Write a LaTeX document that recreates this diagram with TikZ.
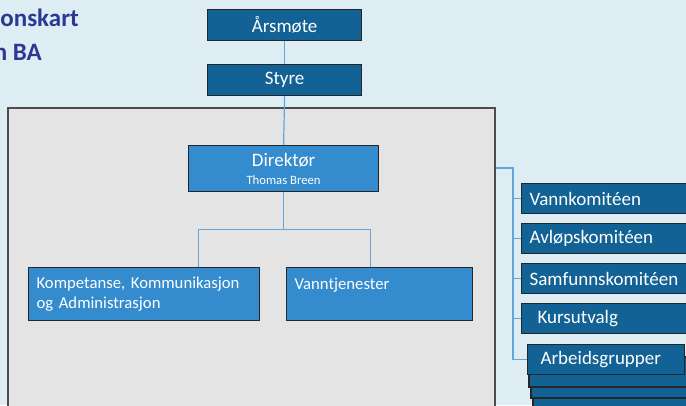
\documentclass[tikz,border=0pt]{standalone}
\usepackage{fontspec}
\setmainfont{Carlito}
\frenchspacing
\definecolor{bgblue}{RGB}{222,236,244}
\definecolor{boxdark}{RGB}{19,98,150}
\definecolor{boxmid}{RGB}{52,139,205}
\definecolor{linkblue}{RGB}{100,165,218}
\definecolor{panelgrey}{RGB}{228,228,228}
\definecolor{titleblue}{RGB}{43,57,144}
\begin{document}
\begin{tikzpicture}[x=1pt,y=-1pt]
	\tikzstyle{topbox}=[draw=black!85, line width=1.2pt, fill=boxdark, text=white, anchor=north west, inner sep=0pt, font=\fontsize{19}{22}\selectfont]
	\tikzstyle{midbox}=[draw=black!85, line width=1.2pt, fill=boxmid, text=white, anchor=north west, inner xsep=8pt, inner ysep=0pt, align=left, font=\fontsize{16.7}{20}\selectfont]
	\tikzstyle{sidebox}=[draw=black!85, line width=1.2pt, fill=boxdark, text=white, anchor=north west, inner xsep=8pt, inner ysep=0pt, minimum height=30pt, align=left, font=\fontsize{19}{22}\selectfont]
	\tikzstyle{stack}=[draw=black!85, line width=1.2pt, fill=boxdark]
	\tikzstyle{link}=[draw=linkblue, line width=1.2pt]

	\useasboundingbox (0,0) rectangle (686,405);
	\clip (0,0) rectangle (686,405);
	\fill[bgblue] (0,0) rectangle (686,405);

	% title (cut off at the left)
	\node[anchor=base east, inner sep=0pt, text=titleblue, font=\fontsize{25}{28}\selectfont\bfseries] (title1) at (79,26) {onskart};
	\node[anchor=base east, inner sep=0pt, text=titleblue, font=\fontsize{25}{28}\selectfont\bfseries] (title2) at (42,60) {n BA};

	\node[topbox, minimum width=154pt, minimum height=31pt] (arsmote) at (207,9) {Årsmøte};
	\node[topbox, minimum width=154pt, minimum height=31pt] (styre) at (207,64) {Styre};

	% grey panel
	\node[draw=black!70, line width=1.6pt, fill=panelgrey, anchor=north west, minimum width=487pt, minimum height=330pt, inner sep=0pt] (panel) at (7,107) {};

	\node[topbox, fill=boxmid, minimum width=190pt, minimum height=46pt, align=center] (direktor) at (188,145) {Direktør\\[-4pt]{\fontsize{12.7}{14}\selectfont Thomas Breen}};

	\node[midbox, text width=215pt, minimum height=53pt] (kompetanse) at (28,267) {Kompetanse, Kommunikasjon\\og Administrasjon};
	\node[midbox, text width=170pt, minimum height=53pt] (vann) at (286,267) {Vanntjenester\\\mbox{}};

	\draw[link] (arsmote.south) -- (styre.north);
	\draw[link] (styre.south) -- (direktor.north);
	\draw[link] (direktor.south) -- ++(0,37) coordinate (split);
	\draw[link] ([xshift=54pt]kompetanse.north) |- (split) -| ([xshift=-9pt]vann.north);

	% committees on the right
	\begin{scope}
		\draw[stack] (533,380) rectangle ++(170,30);
		\draw[stack] (531,368) rectangle ++(170,30);
		\draw[stack] (529,357) rectangle ++(170,30);
		\node[sidebox, text width=184pt] (vannkom) at (521,183) {Vannkomitéen};
		\node[sidebox, text width=184pt] (avlop) at (521,222.5) {Avløpskomitéen};
		\node[sidebox, text width=184pt] (samfunn) at (521,263) {Samfunnskomitéen};
		\node[sidebox, text width=184pt] (kurs) at (521,303) {\hspace*{8pt}Kursutvalg};
		\node[sidebox, text width=141pt] (arb) at (527,344) {\hspace*{5pt}Arbeidsgrupper};
	\end{scope}

	\coordinate (bus) at (513,168);
	\draw[link] (bus -| panel.east) -- (bus) |- (arb.west);
	\draw[link] (bus) |- (vannkom.west);
	\draw[link] (bus) |- (avlop.west);
	\draw[link] (bus) |- (samfunn.west);
	\draw[link] (bus) |- (kurs.west);
\end{tikzpicture}
\end{document}
